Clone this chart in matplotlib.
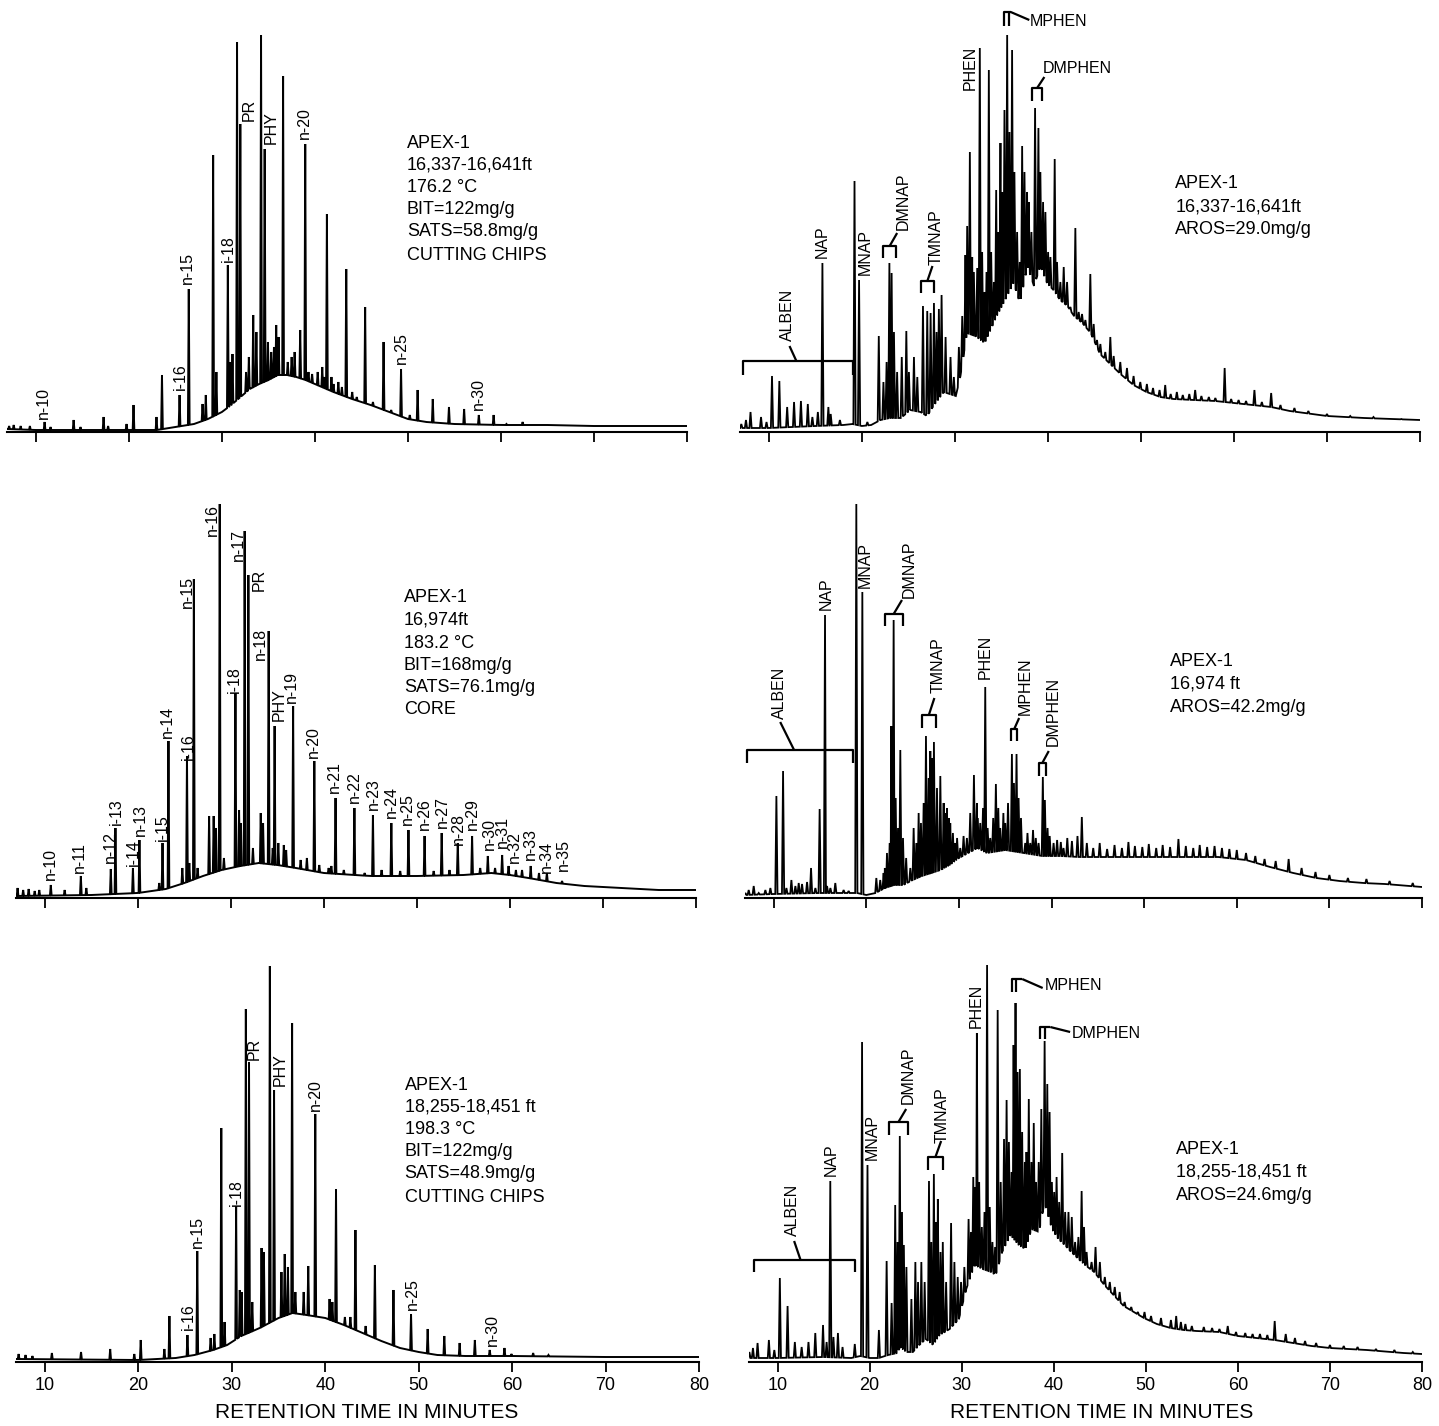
import numpy as np
import matplotlib
matplotlib.use("Agg")
import matplotlib.pyplot as plt

plt.rcParams['font.family'] = ['Liberation Sans', 'DejaVu Sans']

# ---------------- saturate fraction, 16,337-16,641 ft ----------------
sat1_hump_t = [6.9, 10, 15, 20, 23, 25, 27, 28.5, 30, 31, 32, 33, 34, 35, 36, 37, 38, 39, 40,
               42, 44, 46, 48, 50, 52, 55, 60, 65, 70, 80]
sat1_hump_h = [3, 2, 2, 2, 2, 5, 8, 13, 20, 27, 35, 43, 48, 52, 57, 57, 55, 52, 48,
               40, 33, 27, 20, 13, 10, 8, 7, 7, 6, 6]
sat1_peak_t = [7.13, 7.62, 8.37, 9.36, 10.94, 11.58, 14.06, 14.8, 17.28, 17.77, 19.75, 20.5,
               22.97, 23.56, 25.45, 26.44, 27.92, 28.27, 29.06, 29.41, 30.64, 30.89, 31.14,
               31.63, 31.98, 32.6, 32.9, 33.37, 33.71, 34.21, 34.6, 34.95, 35.3, 35.6, 35.84,
               36.09, 36.58, 37.08, 37.5, 37.82, 38.42, 38.96, 39.31, 39.7, 40.3, 40.79, 41.0,
               41.29, 41.78, 42.0, 42.52, 42.9, 43.37, 44.01, 44.5, 45.4, 46.24, 47.38, 48.2,
               49.26, 50.2, 51.04, 52.67, 54.41, 56.04, 57.62, 59.21, 60.59, 62.33, 64.06]
sat1_peak_h = [6, 7, 6, 6, 10, 5, 12, 5, 15, 6, 8, 27,
               15, 57, 37, 143, 28, 37, 277, 60, 167, 70, 78,
               390, 308, 60, 75, 117, 100, 397, 283, 90, 80, 85, 107,
               95, 356, 70, 75, 80, 102, 288, 60, 58, 60, 65, 55,
               218, 55, 48, 50, 45, 163, 40, 35, 125, 30, 90, 22,
               63, 17, 42, 33, 25, 23, 17, 17, 8, 10, 7]
sat1_info = ["APEX-1", "16,337-16,641ft", "176.2 °C", "BIT=122mg/g", "SATS=58.8mg/g",
             "CUTTING CHIPS"]

# ---------------- saturate fraction, 16,974 ft ----------------
sat2_hump_t = [6.9, 15, 20, 23, 25, 27, 29, 31, 33, 35, 37, 40, 45, 50, 55, 58, 60, 62, 65,
               68, 72, 76, 80]
sat2_hump_h = [2, 3, 5, 9, 15, 22, 28, 32, 35, 33, 30, 25, 22, 22, 23, 25, 23, 20, 15,
               12, 10, 8, 8]
sat2_peak_t = [7.07, 7.67, 8.26, 8.91, 9.4, 10.64, 12.13, 13.87, 14.46, 17.09, 17.59, 19.47,
               20.17, 22.3, 22.65, 23.29, 24.78, 25.28, 25.53, 26.02, 26.42, 27.66, 28.15,
               28.4, 28.8, 29.25, 30.49, 30.88, 31.08, 31.48, 31.88, 32.37, 33.21, 33.46,
               34.06, 34.5, 34.7, 35.1, 35.69, 35.94, 36.69, 37.5, 38.17, 38.97, 39.5, 40.51,
               40.8, 41.25, 42.14, 43.28, 44.38, 45.27, 46.2, 47.25, 48.2, 49.09, 50.82,
               51.8, 52.66, 53.5, 54.39, 55.93, 56.8, 57.62, 58.4, 59.16, 59.85, 60.64,
               61.3, 62.23, 63.12, 63.97, 65.6]
sat2_peak_h = [10, 8, 9, 7, 8, 13, 8, 22, 10, 29, 70, 30,
               58, 15, 55, 157, 30, 142, 35, 319, 30, 82, 82,
               70, 394, 40, 205, 88, 75, 367, 323, 50, 85, 75,
               267, 50, 172, 55, 53, 48, 192, 38, 40, 137, 33, 30,
               32, 100, 28, 90, 25, 83, 28, 75, 27, 68, 62,
               27, 65, 28, 55, 62, 30, 42, 30, 43, 32, 28,
               28, 32, 25, 25, 17]
sat2_info = ["APEX-1", "16,974ft", "183.2 °C", "BIT=168mg/g", "SATS=76.1mg/g", "CORE"]

# ---------------- saturate fraction, 18,255-18,451 ft ----------------
sat3_hump_t = [6.9, 20, 24, 26, 28, 29.5, 31, 33, 35, 36.5, 38, 40, 42, 44, 46, 48, 50, 52,
               55, 60, 70, 80]
sat3_hump_h = [3, 2, 4, 7, 12, 17, 26, 34, 44, 49, 47, 44, 37, 29, 21, 14, 10, 7,
               6, 6, 5, 5]
sat3_peak_t = [7.18, 7.92, 8.66, 10.74, 13.86, 16.98, 19.56, 20.25, 22.78, 23.32, 25.25,
               26.3, 27.73, 28.13, 28.87, 29.22, 30.46, 30.85, 31.05, 31.5, 31.84, 32.19,
               33.18, 33.43, 34.07, 34.52, 35.31, 35.66, 36.0, 36.45, 36.8, 37.69, 38.18,
               38.93, 40.46, 40.76, 41.15, 42.1, 42.69, 43.23, 44.32, 45.31, 47.3, 49.18,
               50.96, 52.74, 54.38, 56.01, 57.6, 59.18, 59.93, 62.25, 63.89]
sat3_peak_h = [8, 7, 6, 9, 10, 13, 8, 22, 13, 46, 27,
               111, 24, 28, 234, 40, 156, 72, 70, 353, 300, 60,
               114, 110, 396, 272, 90, 108, 95, 339, 70, 70, 96,
               248, 63, 60, 173, 45, 45, 132, 36, 97, 72, 48,
               33, 26, 19, 22, 12, 14, 8, 9, 7]
sat3_info = ["APEX-1", "18,255-18,451 ft", "198.3 °C", "BIT=122mg/g", "SATS=48.9mg/g",
             "CUTTING CHIPS"]

# ---------------- aromatic fraction, 16,337-16,641 ft ----------------
aro1_hump_t = [6.9, 10, 15, 18, 19, 20, 21, 22, 23, 24.2, 25.2, 26.3, 27, 27.7, 28.8, 30.1,
               30.6, 31.3, 32.2, 33.2, 34.5, 35.4, 36.3, 37.0, 37.8, 38.5, 39.2, 39.9, 40.6,
               41.3, 42.1, 42.8, 43.7, 44.6, 45.6, 46.7, 47.8, 49.2, 50.6, 52.1, 53.5, 55.7,
               58, 60, 62, 64, 66, 70, 74, 80]
aro1_hump_h = [4, 4, 6, 7, 8, 6, 7, 12, 14, 14, 22, 20, 16, 26, 40, 36,
               56, 99, 96, 89, 116, 132, 149, 129, 166, 146, 166, 149, 142,
               132, 126, 116, 109, 99, 78, 68, 58, 47, 40, 35, 33, 32,
               31, 29, 27, 25, 21, 16, 14, 12]
aro1_peak_t = [7.04, 7.54, 8.03, 9.16, 9.75, 10.34, 11.13, 11.97, 12.71, 13.45, 14.19, 14.68,
               15.27, 15.76, 16.4, 16.65, 17.64, 19.21, 19.7, 20.59, 21.82, 22.32, 22.66,
               22.96, 23.2, 23.45, 23.79, 24.29, 24.78, 25.06, 25.6, 25.96, 26.57, 27.03,
               27.39, 27.75, 28.03, 28.28, 28.57, 29.0, 29.53, 29.89, 30.43, 30.79, 31.14,
               31.32, 31.61, 31.86, 32.04, 32.4, 32.68, 32.93, 33.18, 33.4, 33.65, 33.9,
               34.19, 34.44, 34.65, 34.9, 35.08, 35.33, 35.62, 35.87, 36.15, 36.4, 36.69,
               36.98, 37.23, 37.48, 37.76, 37.94, 38.23, 38.62, 38.98, 39.19, 39.48, 39.73,
               40.02, 40.27, 40.73, 40.98, 41.34, 41.7, 42.06, 42.42, 42.95, 43.31, 43.67,
               44.03, 44.56, 44.92, 45.28, 45.64, 46.17, 46.71, 47.07, 47.78, 48.5, 49.21,
               49.93, 50.64, 51.3, 52.0, 52.61, 53.2, 53.86, 54.5, 55.2, 55.83, 56.5, 57.3,
               58.0, 59.0, 59.7, 60.5, 61.3, 62.2, 63.0, 64.0, 65.0, 66.5, 68.0, 70.0, 72.5,
               75.0, 78.0]
aro1_peak_h = [8, 12, 20, 15, 10, 56, 51, 25, 30, 31, 28, 15,
               20, 169, 25, 18, 12, 251, 152, 10, 96, 50, 70,
               169, 159, 100, 60, 75, 101, 60, 75, 55, 126, 121,
               119, 129, 100, 123, 137, 95, 75, 55, 85, 116, 177,
               206, 280, 175, 160, 164, 384, 180, 140, 160, 362, 180,
               150, 242, 200, 289, 240, 322, 397, 300, 382, 260, 200,
               170, 286, 260, 240, 230, 200, 324, 304, 260, 230, 220,
               180, 175, 273, 170, 150, 165, 150, 125, 204, 120, 118,
               112, 158, 108, 92, 88, 80, 95, 76, 70, 64, 56,
               50, 48, 44, 42, 47, 38, 40, 37, 38, 42, 36, 35,
               34, 64, 33, 32, 31, 42, 30, 39, 27, 24, 21, 18, 16,
               15, 13]
aro1_info = ["APEX-1", "16,337-16,641ft", "AROS=29.0mg/g"]

# ---------------- aromatic fraction, 16,974 ft ----------------
aro2_hump_t = [6.9, 10, 15, 19, 20, 21, 22, 23, 24, 25, 26, 27, 28, 29, 30, 31, 32, 33, 35,
               37, 39, 41, 43, 46, 50, 54, 58, 61, 63.6, 66.1, 68.6, 71.1, 73.6, 76, 80]
aro2_hump_h = [3, 4, 5, 5, 3, 5, 10, 13, 13, 18, 22, 25, 28, 33, 40, 45, 50, 45, 48,
               45, 42, 42, 41, 41, 41, 41, 41, 38, 31, 25, 20, 17, 15, 14, 11]
aro2_peak_t = [6.94, 7.3, 7.84, 8.38, 9.1, 9.64, 10.29, 11.01, 11.37, 11.91, 12.34, 12.7,
               13.06, 13.6, 14.03, 14.5, 14.96, 15.54, 15.76, 16.12, 16.65, 17.55, 18.09,
               18.92, 19.57, 21.08, 21.5, 21.87, 22.0, 22.23, 22.52, 22.7, 22.95, 23.17,
               23.42, 23.67, 23.96, 24.3, 24.75, 25.11, 25.4, 25.65, 25.9, 26.19, 26.44,
               26.73, 26.91, 27.09, 27.3, 27.63, 27.99, 28.35, 28.5, 28.71, 28.9, 29.06,
               29.35, 29.6, 29.8, 30.14, 30.5, 30.86, 31.22, 31.62, 31.94, 32.0, 32.3, 32.6,
               32.84, 33.1, 33.38, 33.7, 33.99, 34.25, 34.46, 34.8, 35.0, 35.3, 35.72, 35.94,
               36.22, 36.44, 36.7, 37.16, 37.4, 37.7, 38.0, 38.3, 38.6, 39.06, 39.28, 39.57,
               39.8, 40.22, 40.6, 41.0, 41.29, 41.7, 42.2, 42.8, 43.27, 43.81, 44.5, 45.2,
               46.0, 46.8, 47.6, 48.3, 49.0, 49.8, 50.5, 51.3, 52.0, 52.8, 53.7, 54.5, 55.3,
               56.0, 56.8, 57.6, 58.4, 59.2, 60.0, 61.0, 62.0, 63.0, 64.2, 65.6, 67.0, 68.5,
               70.0, 72.0, 74.0, 76.5, 79.0]
aro2_peak_h = [5, 8, 12, 5, 8, 10, 102, 127, 10, 18, 12, 15,
               14, 16, 30, 10, 89, 283, 12, 10, 15, 8, 7,
               394, 306, 20, 18, 25, 30, 45, 55, 172, 278, 100,
               70, 148, 60, 40, 30, 70, 55, 85, 75, 95, 162,
               120, 147, 140, 156, 110, 122, 95, 85, 90, 80, 75,
               65, 55, 60, 50, 62, 60, 85, 123, 95, 80, 75, 90,
               211, 70, 60, 80, 114, 90, 70, 85, 75, 95, 144, 115,
               144, 100, 80, 55, 65, 55, 68, 60, 55, 121, 98, 70,
               62, 55, 58, 56, 50, 60, 57, 62, 81, 55, 50, 55,
               49, 53, 50, 56, 52, 51, 54, 50, 53, 51, 59, 52, 50,
               53, 51, 52, 50, 49, 48, 45, 42, 39, 37, 39, 30, 26,
               23, 20, 19, 17, 15]
aro2_info = ["APEX-1", "16,974 ft", "AROS=42.2mg/g"]

# ---------------- aromatic fraction, 18,255-18,451 ft ----------------
aro3_hump_t = [6.9, 10, 15, 18, 19, 20, 21, 22, 23, 23.3, 24.0, 24.7, 25.4, 26.1, 26.9, 27.6,
               28.7, 29.7, 30.5, 31.4, 32.3, 33.2, 33.7, 34.4, 35.3, 36.2, 36.9, 37.6, 38.4,
               39.0, 39.8, 40.5, 41.2, 41.9, 42.7, 43.4, 44.4, 45.5, 46.6, 47.6, 48.7, 49.8,
               51.2, 52.7, 54.1, 55.5, 58, 60, 62, 64, 66, 68, 70, 74, 78, 80]
aro3_hump_h = [4, 4, 5, 4, 6, 4, 4, 7, 9, 15, 10, 10, 17, 23, 17, 27,
               33, 43, 73, 97, 93, 90, 87, 110, 127, 117, 113, 133, 130,
               160, 133, 123, 117, 110, 103, 97, 90, 77, 66, 56, 50, 44,
               38, 34, 32, 31, 30, 26, 24, 22, 19, 16, 14, 12, 9, 8]
aro3_peak_t = [6.94, 7.33, 7.83, 9.06, 9.65, 10.25, 11.09, 11.88, 12.62, 13.36, 14.1, 14.94,
               15.33, 15.73, 16.07, 16.56, 17.06, 18.39, 19.18, 19.77, 21.01, 21.85, 22.39,
               22.78, 23.03, 23.28, 23.52, 23.72, 24.0, 24.54, 24.97, 25.26, 25.62, 25.98,
               26.45, 26.7, 26.98, 27.24, 27.41, 27.7, 27.95, 28.31, 28.85, 29.21, 29.57,
               29.93, 30.29, 30.75, 31.01, 31.26, 31.47, 31.65, 31.9, 32.19, 32.48, 32.76,
               33.05, 33.34, 33.63, 33.91, 34.24, 34.6, 34.88, 35.13, 35.42, 35.64, 35.85,
               36.07, 36.32, 36.57, 36.86, 37.04, 37.29, 37.58, 37.83, 38.08, 38.37, 38.65,
               39.01, 39.3, 39.55, 39.8, 40.05, 40.31, 40.59, 40.92, 41.24, 41.6, 41.96,
               42.32, 42.68, 43.03, 43.29, 43.57, 44.11, 44.54, 45.01, 45.55, 46.09, 46.63,
               47.16, 47.7, 48.42, 49.14, 49.86, 50.57, 51.65, 52.73, 53.3, 53.81, 54.3,
               55.0, 56.3, 57.2, 58.0, 58.9, 59.8, 60.8, 61.6, 62.4, 63.2, 64.0, 65.2, 66.2,
               67.3, 68.5, 70.0, 71.5, 73.0, 75.0, 77.0, 79.0]
aro3_peak_h = [10, 14, 19, 22, 12, 84, 56, 20, 15, 20, 29, 37,
               20, 181, 25, 29, 15, 18, 320, 197, 32, 101, 59,
               157, 120, 226, 150, 117, 95, 63, 100, 80, 100, 80,
               181, 120, 188, 140, 163, 110, 120, 80, 139, 100, 85,
               80, 95, 143, 130, 185, 175, 329, 180, 135, 150, 397,
               155, 120, 115, 352, 180, 223, 262, 220, 190, 317, 359,
               290, 293, 230, 200, 210, 263, 200, 239, 180, 200, 253,
               321, 278, 250, 180, 170, 185, 160, 209, 150, 150, 145,
               120, 125, 171, 135, 110, 100, 115, 100, 85, 80, 75,
               70, 60, 55, 50, 50, 46, 44, 42, 46, 40, 38,
               36, 35, 34, 33, 36, 30, 29, 28, 28, 27, 41, 28, 24,
               21, 19, 17, 16, 15, 13, 12, 10]
aro3_info = ["APEX-1", "18,255-18,451 ft", "AROS=24.6mg/g"]

# ---------------- layout (pixels of the 1439x1426 page) ----------------
W, H = 1439, 1426
X0, X1, YTOP = 6.9, 80, 420

fig = plt.figure(figsize=(W / 100, H / 100), dpi=100)


def make_ax(left_px, right_px, axis_y_px, show_labels):
    ax = fig.add_axes([left_px / W, 1 - axis_y_px / H, (right_px - left_px) / W, YTOP / H])
    ax.set_xlim(X0, X1)
    ax.set_ylim(0, YTOP)
    for s in ['top', 'left', 'right']:
        ax.spines[s].set_visible(False)
    ax.spines['bottom'].set_linewidth(1.5)
    ax.set_yticks([])
    ax.set_xticks(range(10, 81, 10))
    ax.tick_params(axis='x', direction='out', length=7.5, width=1.3, labelsize=13, pad=3)
    if not show_labels:
        ax.set_xticklabels([])
    ax.patch.set_alpha(0)
    return ax


def trace(ax, ht, hh, pt, ph, half_width, lw):
    # one continuous trace: the hump, with each listed peak as a narrow spike on it
    pt = np.asarray(pt, float)
    ph = np.asarray(ph, float)
    order = np.argsort(pt)
    pt, ph = pt[order], ph[order]
    gaps = np.diff(pt)
    left = np.minimum(half_width, np.r_[half_width, gaps * 0.45])
    right = np.minimum(half_width, np.r_[gaps * 0.45, half_width])
    xs, ys = [], []
    ht = np.asarray(ht, float)
    k = 0
    for t, h, wl, wr in zip(pt, ph, left, right):
        while k < len(ht) and ht[k] < t - wl:
            xs.append(ht[k]); ys.append(hh[k]); k += 1
        while k < len(ht) and ht[k] <= t + wr:
            k += 1
        b0 = np.interp(t - wl, ht, hh)
        b1 = np.interp(t + wr, ht, hh)
        xs += [t - wl, t, t + wr]
        ys += [b0, max(h, b0), b1]
    xs += list(ht[k:]); ys += list(hh[k:])
    ax.plot(xs, ys, color='k', lw=lw, solid_joinstyle='miter')


def vlabel(ax, s, x, y, va='bottom'):
    ax.text(x, y, s, rotation=90, ha='center', va=va, fontsize=11.5, clip_on=False)


def info(ax, lines, x, ys):
    for s, y in zip(lines, ys):
        ax.text(x, y, s, ha='left', va='center', fontsize=13)


def line(ax, xs, ys):
    ax.plot(xs, ys, color='k', lw=1.6, clip_on=False, solid_capstyle='butt')


def bracket(ax, t0, t1, hb, hl, lead):
    line(ax, [t0, t0, t1, t1], [hl, hb, hb, hl])
    line(ax, [lead[0], lead[2]], [lead[1], lead[3]])


# ---- saturates ----
ax = make_ax(7, 687, 432, False)
trace(ax, sat1_hump_t, sat1_hump_h, sat1_peak_t, sat1_peak_h, 0.09, 1.4)
for s, x, y in [("n-10", 10.85, 13), ("i-16", 25.5, 42), ("n-15", 26.3, 148), ("i-18", 30.7, 170),
                ("PR", 32.9, 311), ("PHY", 35.35, 288), ("n-20", 38.9, 293), ("n-25", 49.3, 68),
                ("n-30", 57.6, 22)]:
    vlabel(ax, s, x, y)
info(ax, sat1_info, 49.9, [289, 267, 245, 222, 200, 177])

ax = make_ax(16, 696, 898, False)
trace(ax, sat2_hump_t, sat2_hump_h, sat2_peak_t, sat2_peak_h, 0.09, 1.4)
for s, x, y in [("n-10", 10.64, 18), ("n-11", 13.72, 25), ("n-12", 17.0, 35), ("i-13", 17.69, 73),
                ("i-14", 19.47, 32), ("n-13", 20.32, 62), ("i-15", 22.65, 57), ("n-14", 23.19, 160),
                ("i-16", 25.43, 138), ("n-15", 25.28, 290), ("n-16", 28.0, 362), ("n-17", 30.83, 337),
                ("PR", 33.07, 307), ("i-18", 30.39, 205), ("n-18", 33.21, 238), ("PHY", 35.2, 177),
                ("n-19", 36.54, 195), ("n-20", 38.92, 140), ("n-21", 41.15, 105), ("n-22", 43.28, 95),
                ("n-23", 45.27, 88), ("n-24", 47.25, 80), ("n-25", 48.99, 73), ("n-26", 50.82, 68),
                ("n-27", 52.7, 70), ("n-28", 54.44, 53), ("n-29", 55.93, 68), ("n-30", 57.77, 48),
                ("n-31", 59.16, 50), ("n-32", 60.5, 35), ("n-33", 62.23, 38), ("n-34", 63.97, 25),
                ("n-35", 65.71, 27)]:
    vlabel(ax, s, x, y)
info(ax, sat2_info, 48.6, [301, 278, 255, 232, 210, 188])

ax = make_ax(16, 699, 1362, True)
trace(ax, sat3_hump_t, sat3_hump_h, sat3_peak_t, sat3_peak_h, 0.09, 1.4)
for s, x, y in [("i-16", 25.4, 32), ("n-15", 26.3, 114), ("i-18", 30.46, 156), ("PR", 32.44, 302),
                ("PHY", 35.16, 276), ("n-20", 38.98, 251), ("n-25", 49.28, 52), ("n-30", 57.85, 16)]:
    vlabel(ax, s, x, y)
info(ax, sat3_info, 48.5, [277, 255, 233, 210, 188, 165])

# ---- aromatics ----
ax = make_ax(740, 1420, 432, False)
trace(ax, aro1_hump_t, aro1_hump_h, aro1_peak_t, aro1_peak_h, 0.12, 1.3)
bracket(ax, 7.19, 19.01, 71, 57, (12.96, 71, 12.22, 86))
vlabel(ax, "ALBEN", 11.97, 91)
vlabel(ax, "NAP", 15.76, 174)
vlabel(ax, "MNAP", 20.34, 157)
bracket(ax, 22.32, 23.69, 186, 174, (22.99, 186, 23.79, 199))
vlabel(ax, "DMNAP", 24.43, 202)
bracket(ax, 26.35, 27.73, 151, 139, (27.04, 151, 27.59, 166))
vlabel(ax, "TMNAP", 27.98, 167)
vlabel(ax, "PHEN", 31.67, 342)
line(ax, [35.33, 35.33, 36.0], [406, 420, 420])
line(ax, [35.8, 35.8], [406, 420])
line(ax, [36.0, 38.0], [420, 412])
ax.text(38.1, 410, "MPHEN", ha='left', va='center', fontsize=11.5, clip_on=False)
bracket(ax, 38.3, 39.37, 344, 331, (38.84, 344, 39.62, 355))
ax.text(39.4, 356, "DMPHEN", ha='left', va='bottom', fontsize=11.5, clip_on=False)
info(ax, aro1_info, 53.7, [249, 225, 202])

ax = make_ax(745, 1422, 898, False)
trace(ax, aro2_hump_t, aro2_hump_h, aro2_peak_t, aro2_peak_h, 0.12, 1.3)
bracket(ax, 7.1, 18.6, 148, 135, (12.2, 148, 10.7, 176))
vlabel(ax, "ALBEN", 10.65, 179)
vlabel(ax, "NAP", 15.65, 288)
vlabel(ax, "MNAP", 19.9, 310)
bracket(ax, 22.05, 24.0, 284, 272, (22.95, 284, 23.85, 298))
vlabel(ax, "DMNAP", 24.6, 300)
bracket(ax, 26.0, 27.5, 183, 170, (26.75, 183, 27.35, 200))
vlabel(ax, "TMNAP", 27.8, 205)
vlabel(ax, "PHEN", 32.8, 219)
bracket(ax, 35.65, 36.3, 169, 157, (35.97, 169, 36.5, 180))
vlabel(ax, "MPHEN", 37.2, 183)
bracket(ax, 38.6, 39.4, 135, 122, (39.0, 135, 39.7, 147))
vlabel(ax, "DMPHEN", 40.2, 152)
info(ax, aro2_info, 52.8, [236, 214, 191])

ax = make_ax(749, 1422, 1362, True)
trace(ax, aro3_hump_t, aro3_hump_h, aro3_peak_t, aro3_peak_h, 0.12, 1.3)
bracket(ax, 7.43, 18.45, 102, 90, (12.5, 102, 11.8, 121))
vlabel(ax, "ALBEN", 11.63, 126)
vlabel(ax, "NAP", 15.82, 186)
vlabel(ax, "MNAP", 20.27, 202)
bracket(ax, 22.14, 24.12, 240, 227, (23.13, 240, 23.97, 253))
vlabel(ax, "DMNAP", 24.21, 258)
bracket(ax, 26.29, 28.02, 205, 192, (27.15, 205, 27.77, 221))
vlabel(ax, "TMNAP", 27.9, 219)
vlabel(ax, "PHEN", 31.62, 334)
line(ax, [35.42, 35.42, 36.57], [370, 383, 383])
line(ax, [35.92, 35.92], [370, 383])
line(ax, [36.57, 38.8], [383, 374])
ax.text(39.0, 377, "MPHEN", ha='left', va='center', fontsize=11.5, clip_on=False)
line(ax, [38.47, 38.47, 39.62], [323, 335, 335])
line(ax, [39.08, 39.08], [323, 335])
line(ax, [39.62, 41.78], [335, 330])
ax.text(42.0, 328, "DMPHEN", ha='left', va='center', fontsize=11.5, clip_on=False)
info(ax, aro3_info, 53.3, [212, 190, 167])

fig.text(367 / W, 1 - 1413 / H, "RETENTION TIME IN MINUTES", ha='center', va='center', fontsize=15)
fig.text(1102 / W, 1 - 1413 / H, "RETENTION TIME IN MINUTES", ha='center', va='center', fontsize=15)

fig.savefig("out.png", dpi=100)
